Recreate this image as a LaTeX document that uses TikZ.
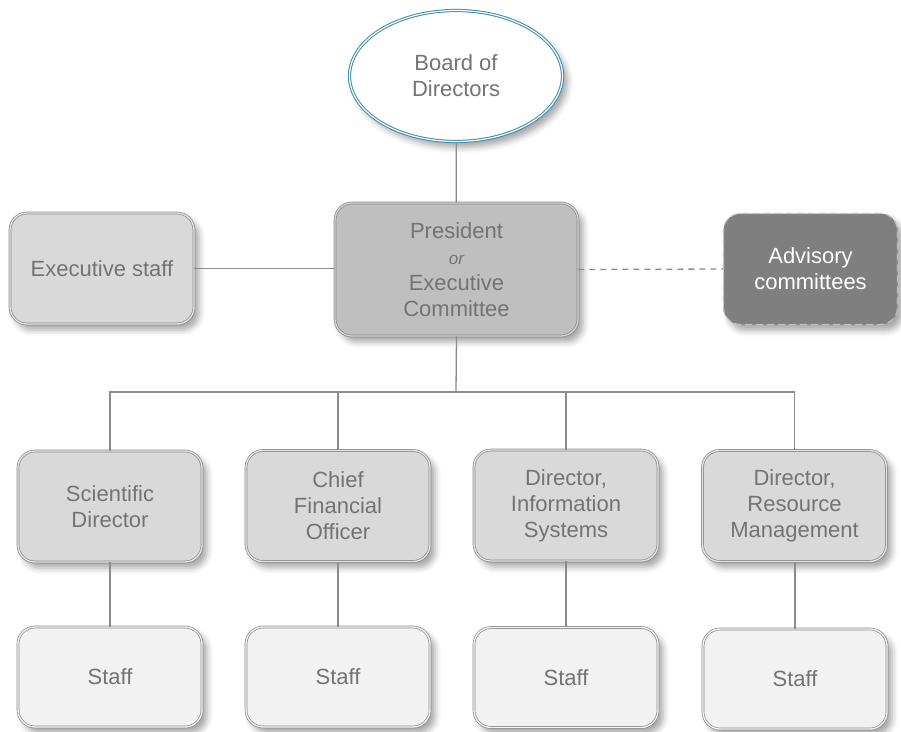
\documentclass[tikz,border=0pt]{standalone}
\usepackage{fontspec}
\setmainfont{Liberation Sans}
\usetikzlibrary{shapes.geometric,shadows.blur}
\definecolor{txt}{HTML}{737373}
\definecolor{ln}{HTML}{8C8C8C}
\definecolor{bord}{HTML}{8A8A8A}
\definecolor{presfill}{HTML}{BFBFBF}
\definecolor{dirfill}{HTML}{D9D9D9}
\definecolor{stafffill}{HTML}{F2F2F2}
\definecolor{advfill}{HTML}{7F7F7F}
\definecolor{boardblue}{HTML}{3A8DB0}
\tikzset{
  shad/.style={blur shadow={shadow xshift=5pt, shadow yshift=-6pt, shadow blur radius=6pt, shadow opacity=35}},
  basebox/.style={rectangle, rounded corners=17pt, inner sep=0pt, align=center, text=txt,
    font=\fontsize{22}{26}\selectfont, shad},
  dblbox/.style={basebox, draw=bord, line width=0.7pt, double=#1!70!white, double distance=1.3pt, fill=#1},
  presbox/.style={dblbox=presfill, minimum width=243pt, minimum height=133pt},
  sidebox/.style={dblbox=dirfill, minimum width=184pt, minimum height=111pt},
  dirbox/.style={dblbox=dirfill, minimum width=184pt, minimum height=111pt},
  staffbox/.style={dblbox=stafffill, minimum width=184pt, minimum height=100pt},
  advbox/.style={basebox, fill=advfill, draw=presfill, line width=1.2pt, dash pattern=on 7pt off 4pt,
    text=white, minimum width=174pt, minimum height=111pt},
  boardell/.style={ellipse, draw=boardblue, line width=1pt, double=white, double distance=1.2pt, fill=white,
    minimum width=213pt, minimum height=131pt, inner sep=0pt, align=center, text=txt,
    font=\fontsize{22}{26}\selectfont, shad},
  conn/.style={draw=ln, line width=1.3pt},
  dconn/.style={draw=ln, line width=1.3pt, dash pattern=on 6pt off 5pt},
}
\begin{document}
\begin{tikzpicture}[x=1pt, y=-1pt]
\useasboundingbox (0,0) rectangle (901,731);
\node[boardell] (board) at (456,76) {Board of\\Directors};
\node[presbox] (pres) at (456.5,269.5) {President\\{\itshape\fontsize{17}{26}\selectfont or}\\Executive\\Committee};
\node[sidebox] (exec) at (102,268.5) {Executive staff};
\node[advbox] (adv) at (810.5,269) {Advisory\\committees};
\node[dirbox] (sci) at (110,506.5) {Scientific\\Director};
\node[dirbox] (cfo) at (338,506) {Chief\\Financial\\Officer};
\node[dirbox] (info) at (566,505.5) {Director,\\Information\\Systems};
\node[dirbox] (res) at (794.5,506) {Director,\\Resource\\Management};
\node[staffbox] (s1) at (110,677) {Staff};
\node[staffbox] (s2) at (338,677) {Staff};
\node[staffbox] (s3) at (566,677.5) {Staff};
\node[staffbox] (s4) at (795,679) {Staff};
\coordinate (bus) at (456,392);
\draw[conn] (board) -- (pres);
\draw[conn] (exec) -- (exec -| pres.west);
\draw[dconn] (pres.east) -- (adv.west);
\draw[conn] (pres.south) -- (bus);
\draw[conn] (bus) -| (sci.north);
\draw[conn] (bus) -| (cfo.north);
\draw[conn] (bus) -| (info.north);
\draw[conn] (bus) -| (res.north);
\draw[conn] (sci) -- (s1);
\draw[conn] (cfo) -- (s2);
\draw[conn] (info) -- (s3);
\draw[conn] (res.south -| s4.north) -- (s4);
\end{tikzpicture}
\end{document}
